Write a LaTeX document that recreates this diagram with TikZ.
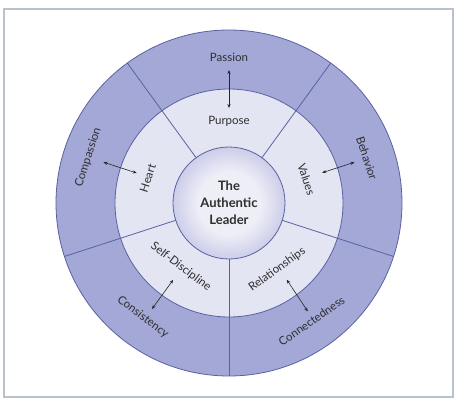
\documentclass[tikz,border=0pt]{standalone}
\usepackage{fontspec}
\setmainfont{Lato}
\usetikzlibrary{arrows.meta}
\definecolor{outerc}{HTML}{A4A8D7}
\definecolor{midc}{HTML}{E3E5F3}
\definecolor{linec}{HTML}{5A61A3}
\definecolor{txtc}{HTML}{2E2E2E}
\definecolor{framec}{HTML}{B9C2CC}
\definecolor{discin}{HTML}{EEEEF7}
\definecolor{discmid}{HTML}{B0B3DE}
\definecolor{discout}{HTML}{787DC0}
\pgfdeclareradialshading{discshade}{\pgfpoint{0bp}{0bp}}{color(0bp)=(discin); color(14bp)=(discin); color(34bp)=(discmid); color(50bp)=(discout)}
\begin{document}
\begin{tikzpicture}[x=1pt,y=1pt,
  lbl/.style={text=txtc, font=\fontsize{11.5}{13}\selectfont, inner sep=0pt},
  divider/.style={draw=linec, line width=0.8pt},
  biarrow/.style={draw=black!85, line width=0.6pt, {Stealth[length=4pt,width=3.2pt]}-{Stealth[length=4pt,width=3.2pt]}}]
\useasboundingbox (-229,-199) rectangle (229,203);
\fill[white] (-229,-199) rectangle (229,203);
\draw[framec, line width=1.3pt] (-225,-194) rectangle (224,194);
% rings
\fill[outerc] (0,0) circle (173);
\draw[linec, line width=0.8pt] (0,0) circle (173);
\fill[midc] (0,0) circle (114);
\draw[linec, line width=0.8pt] (0,0) circle (114);
% dividers
\foreach \a in {54,126,198,270,342} {
  \draw[divider] (\a:56) -- (\a:173);
}
% center disc
\node[circle, minimum size=112pt, inner sep=0pt, shading=discshade, draw=linec, line width=0.8pt,
      align=center, text=txtc, font=\bfseries\fontsize{13}{17}\selectfont] (core) at (0,0) {The\\Authentic\\Leader};
% labels
\node[lbl] (passion) at (90:146) {Passion};
\node[lbl] (purpose) at (90:82) {Purpose};
\node[lbl, rotate=-72] (behavior) at (18:145) {Behavior};
\node[lbl, rotate=-72] (values) at (17:81) {Values};
\node[lbl, rotate=72] (compassion) at (162:148) {Compassion};
\node[lbl, rotate=72] (heart) at (163:85) {Heart};
\node[lbl, rotate=-37] (consistency) at (233:143) {Consistency};
\node[lbl, rotate=-37] (selfd) at (233:80) {Self-Discipline};
\node[lbl, rotate=35] (connect) at (305:144) {Connectedness};
\node[lbl, rotate=36] (relat) at (306:82) {Relationships};
% arrow ends
\coordinate (a1i) at (90:95);  \coordinate (a1o) at (90:133);
\coordinate (a2i) at (18:98);  \coordinate (a2o) at (18:132);
\coordinate (a3i) at (162:97); \coordinate (a3o) at (162:132);
\coordinate (a4i) at (234:95); \coordinate (a4o) at (234:131);
\coordinate (a5i) at (307:96); \coordinate (a5o) at (306:134);
\draw[biarrow] (a1i) -- (a1o);
\draw[biarrow] (a2i) -- (a2o);
\draw[biarrow] (a3i) -- (a3o);
\draw[biarrow] (a4i) -- (a4o);
\draw[biarrow] (a5i) -- (a5o);
\end{tikzpicture}
\end{document}
